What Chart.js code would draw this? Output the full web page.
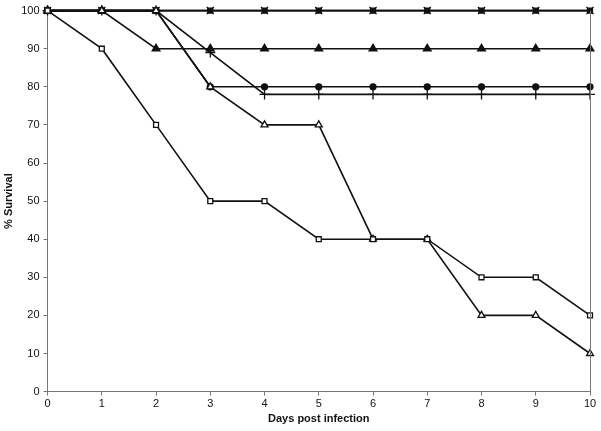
<!DOCTYPE html>
<html>
<head>
<meta charset="utf-8">
<script src="https://cdn.jsdelivr.net/npm/chart.js@4"></script>
<style>
  body { margin: 0; background: white; }
  #wrap { width: 601px; height: 431px; }
</style>
</head>
<body>
<div id="wrap"><canvas id="myChart"></canvas></div>
<script>
var days = ["0", "1", "2", "3", "4", "5", "6", "7", "8", "9", "10"];
var yTicks = [0, 10, 20, 30, 40, 50, 60, 70, 80, 90, 100];

var openSquare   = [100, 90, 70, 50, 50, 40, 40, 40, 30, 30, 20];
var openTriangle = [100, 100, 100, 80, 70, 70, 40, 40, 20, 20, 10];
var filledCircle = [100, 100, 100, 80, 80, 80, 80, 80, 80, 80, 80];
var plusSeries   = [100, 100, 100, 89, 78, 78, 78, 78, 78, 78, 78];
var filledTri    = [100, 100, 90, 90, 90, 90, 90, 90, 90, 90, 90];
var filledSquare = [100, 100, 100, 100, 100, 100, 100, 100, 100, 100, 100];
var starSeries   = [100, 100, 100, 100, 100, 100, 100, 100, 100, 100, 100];

function ds(data, style, filled, r) {
  return {
    data: data,
    borderColor: "#111",
    borderWidth: 1.6,
    pointStyle: style,
    pointRadius: r,
    pointBorderWidth: 1.3,
    pointBorderColor: "#111",
    pointBackgroundColor: filled ? "#111" : "white",
    fill: false,
    tension: 0,
    clip: false
  };
}

// right side border of the plot area
var frame = {
  id: "frame",
  afterDraw: function(chart) {
    var c = chart.ctx, a = chart.chartArea;
    c.save();
    c.strokeStyle = "#777";
    c.lineWidth = 1;
    c.beginPath();
    c.moveTo(a.right + 0.5, a.top);
    c.lineTo(a.right + 0.5, a.bottom);
    c.stroke();
    c.restore();
  }
};

new Chart("myChart", {
  type: "line",
  data: {
    labels: days,
    datasets: [
      ds(openSquare, "rect", false, 3.5),
      ds(openTriangle, "triangle", false, 4),
      ds(filledCircle, "circle", true, 3),
      ds(plusSeries, "cross", false, 5),
      ds(filledTri, "triangle", true, 4.5),
      ds(filledSquare, "rect", true, 3.5),
      ds(starSeries, "crossRot", false, 5)
    ]
  },
  options: {
    responsive: true,
    maintainAspectRatio: false,
    animation: false,
    layout: { padding: { top: 6, right: 11, left: 2, bottom: 5 } },
    plugins: { legend: { display: false }, tooltip: { enabled: false } },
    scales: {
      x: {
        offset: false,
        grid: { drawOnChartArea: false, color: "#777", tickLength: 4 },
        border: { color: "#777", width: 1 },
        ticks: { color: "#111", font: { family: "Liberation Sans", size: 11 }, maxRotation: 0, padding: 2 },
        title: { display: true, text: "Days post infection", color: "#111",
                 font: { family: "Liberation Sans", size: 11, weight: "bold" }, padding: { top: 0, bottom: 0 } }
      },
      y: {
        min: 0,
        max: 100,
        afterBuildTicks: function(s) { s.ticks = yTicks.map(function(v) { return { value: v }; }); },
        grid: { drawOnChartArea: false, color: "#777", tickLength: 4 },
        border: { color: "#777", width: 1 },
        ticks: { color: "#111", font: { family: "Liberation Sans", size: 11 }, padding: 4 },
        title: { display: true, text: "% Survival", color: "#111",
                 font: { family: "Liberation Sans", size: 11, weight: "bold" }, padding: { top: 0, bottom: 2 } }
      }
    }
  },
  plugins: [frame]
});
</script>
</body>
</html>
